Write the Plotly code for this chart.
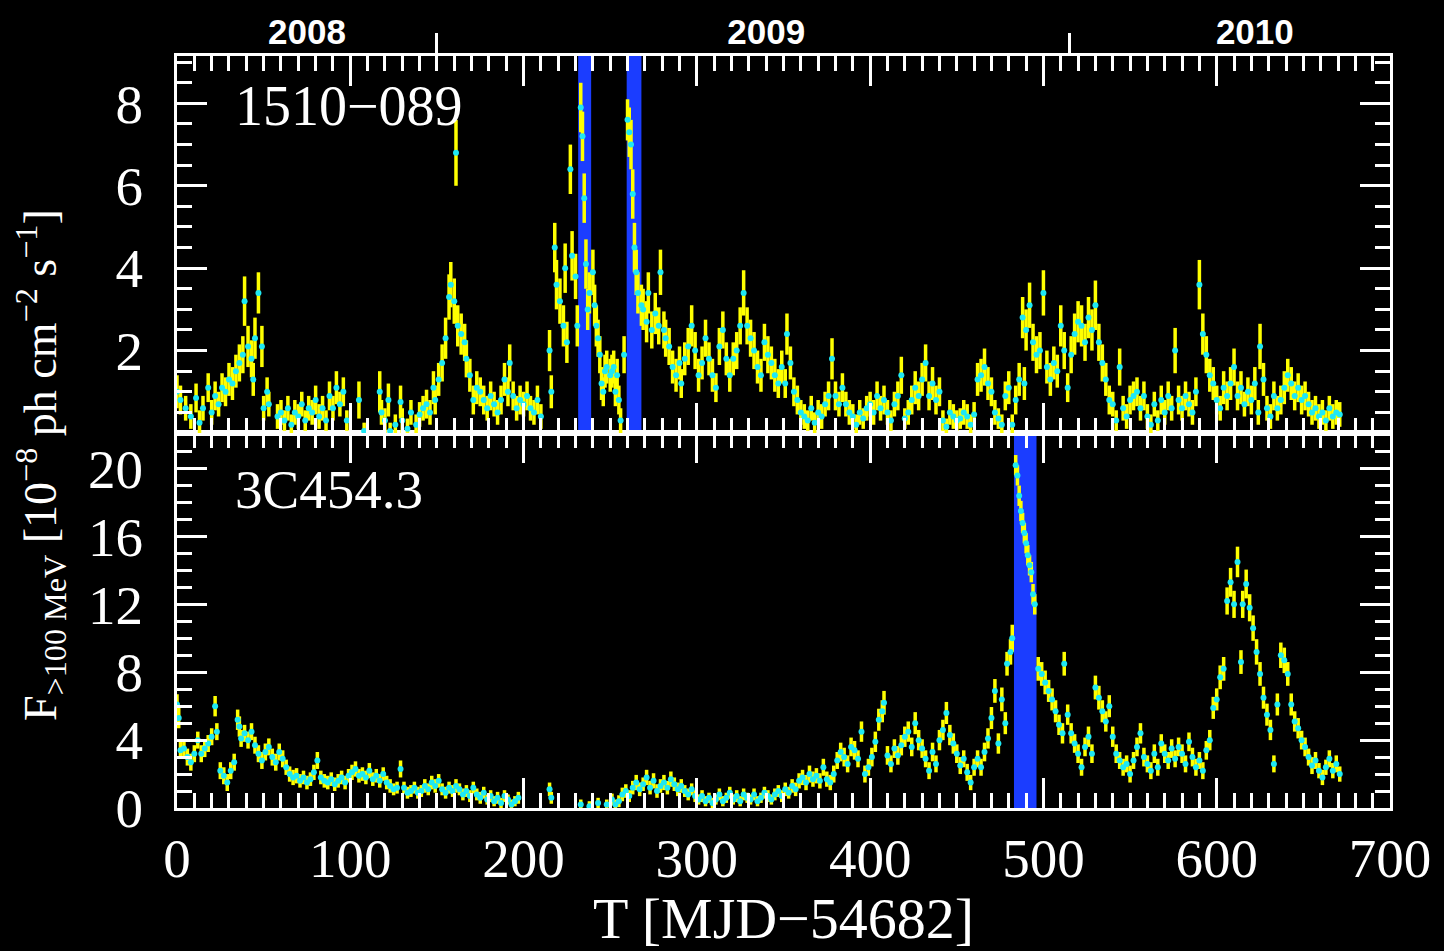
import plotly.graph_objects as go

# ---------------- data: 1510-089 (top panel) ----------------
t_1510 = [0, 2, 5, 8, 11, 13, 15, 18, 20, 22,
          24, 26, 28, 30, 32, 34, 36, 38, 39, 41,
          43, 44, 45, 47, 49, 50, 52, 53, 58, 60,
          62, 64, 66, 68, 70, 72, 74, 76, 78, 80,
          82, 84, 86, 88, 90, 92, 94, 96, 98, 105,
          108, 117, 118, 120, 122, 123, 126, 129, 130, 133,
          135, 138, 140, 142, 144, 146, 148, 149, 151, 153,
          155, 157, 158, 160, 161, 162, 164, 166, 167, 169,
          171, 173, 175, 177, 179, 181, 183, 185, 187, 189,
          191, 192, 194, 196, 198, 200, 202, 204, 206, 208,
          210, 215, 216, 218, 219, 221, 223, 224, 225, 227,
          228, 230, 231, 233, 234, 235, 236, 237, 238, 240,
          241, 242, 243, 244, 245, 246, 247, 248, 250, 251,
          252, 253, 254, 255, 256, 258, 260, 261, 262, 263,
          264, 265, 266, 268, 269, 271, 272, 274, 276, 278,
          279, 281, 282, 284, 286, 288, 290, 291, 293, 295,
          297, 299, 301, 303, 305, 307, 309, 311, 313, 315,
          317, 319, 321, 323, 325, 327, 329, 331, 333, 335,
          337, 339, 341, 343, 345, 347, 349, 351, 352, 354,
          356, 358, 360, 362, 364, 366, 368, 370, 372, 374,
          376, 378, 380, 382, 384, 386, 388, 390, 392, 394,
          396, 398, 400, 402, 404, 406, 408, 410, 412, 414,
          416, 418, 420, 422, 424, 426, 428, 430, 432, 434,
          436, 438, 440, 442, 444, 446, 448, 450, 452, 454,
          456, 458, 460, 462, 464, 466, 468, 470, 472, 474,
          476, 478, 480, 482, 484, 486, 488, 489, 490, 492,
          494, 496, 498, 500, 502, 504, 506, 508, 510, 512,
          514, 516, 518, 520, 522, 524, 526, 528, 530, 532,
          534, 536, 538, 540, 542, 544, 546, 548, 550, 552,
          554, 556, 558, 560, 562, 564, 566, 568, 570, 572,
          574, 576, 578, 580, 582, 584, 586, 588, 590, 592,
          594, 596, 598, 600, 602, 604, 606, 608, 610, 612,
          614, 616, 618, 620, 622, 624, 625, 627, 629, 631,
          633, 635, 637, 639, 641, 643, 645, 647, 649, 651,
          653, 655, 657, 659, 661, 663, 665, 667, 669, 671]
f_1510 = [1.0, 0.8, 0.6, 0.4, 0.85, 0.25, 0.6, 1.1, 0.5, 0.9,
          0.7, 1.1, 1.0, 1.3, 1.2, 1.5, 1.7, 1.9, 3.2, 2.1,
          1.8, 1.3, 2.3, 3.4, 2.1, 0.6, 1.0, 0.7, 0.4, 0.5,
          0.3, 0.6, 0.2, 0.5, 0.4, 0.7, 0.3, 0.6, 0.5, 0.8,
          0.4, 0.6, 0.3, 0.9, 0.6, 1.1, 0.7, 1.0, 0.3, 0.8,
          0.05, 1.0, 0.5, 0.3, 0.8, 0.05, 0.2, 0.75, 0.3, 0.1,
          0.5, 0.2, 0.45, 0.6, 0.7, 0.5, 1.1, 0.8, 1.3, 1.7,
          2.3, 3.3, 3.6, 3.2, 6.8, 2.6, 2.4, 2.2, 1.8, 1.4,
          0.8, 1.1, 1.0, 0.8, 0.6, 0.9, 0.7, 0.5, 0.8, 1.3,
          1.0, 1.7, 0.9, 0.6, 0.8, 0.7, 0.9, 0.6, 0.5, 0.8,
          0.4, 2.0, 1.0, 4.5, 3.6, 3.2, 2.6, 4.0, 2.2, 6.4,
          4.3, 3.8, 2.6, 7.9, 7.2, 5.7, 4.1, 3.0, 3.4, 3.9,
          3.1, 2.6, 2.3, 1.9, 1.2, 1.0, 1.5, 1.6, 1.4, 1.5,
          1.6, 1.0, 1.4, 0.8, 0.3, 1.9, 7.6, 7.3, 7.0, 5.8,
          4.5, 3.9, 3.4, 3.1, 3.0, 2.7, 3.4, 2.5, 2.9, 2.6,
          3.9, 2.5, 2.3, 2.1, 1.6, 1.4, 1.7, 1.2, 1.8, 2.1,
          2.6, 2.0, 1.4, 1.7, 2.3, 1.8, 1.4, 1.1, 2.1, 2.5,
          1.8, 1.4, 1.8, 2.0, 2.6, 3.4, 2.6, 2.3, 2.0, 1.6,
          1.4, 2.2, 1.9, 1.7, 1.4, 1.2, 1.6, 1.2, 2.4, 1.7,
          1.0, 0.8, 0.5, 0.4, 0.3, 0.6, 0.25, 0.5, 0.4, 0.7,
          0.9, 1.8, 0.9, 0.7, 1.1, 0.7, 0.5, 0.4, 0.2, 0.5,
          0.35, 0.6, 0.7, 0.5, 0.9, 0.6, 0.8, 0.5, 0.3, 0.7,
          0.9, 1.4, 0.35, 0.5, 0.8, 1.1, 0.9, 1.3, 1.7, 0.9,
          1.2, 0.8, 1.0, 0.3, 0.15, 0.5, 0.4, 0.3, 0.35, 0.5,
          0.4, 0.2, 0.45, 1.3, 1.4, 1.6, 1.2, 1.0, 0.5, 0.35,
          0.2, 0.9, 1.1, 0.2, 0.8, 1.3, 2.8, 1.2, 2.5, 3.1,
          2.2, 1.9, 2.0, 3.4, 1.6, 1.3, 1.7, 1.5, 2.6, 2.0,
          1.1, 1.9, 2.4, 2.7, 2.6, 2.2, 2.8, 2.5, 3.1, 2.2,
          1.7, 1.3, 0.8, 0.7, 0.3, 1.6, 0.6, 0.4, 0.8, 0.9,
          1.0, 0.6, 0.9, 0.4, 0.2, 0.7, 0.3, 0.8, 0.5, 0.9,
          0.6, 2.0, 0.8, 0.6, 0.9, 0.7, 0.5, 1.0, 3.6, 2.4,
          1.9, 1.4, 1.2, 0.8, 0.6, 1.1, 0.9, 1.2, 1.6, 0.9,
          1.1, 0.7, 1.0, 0.8, 1.2, 0.5, 2.1, 1.3, 0.6, 0.4,
          0.9, 0.6, 0.8, 1.1, 1.4, 1.2, 0.9, 1.1, 0.8, 0.9,
          0.7, 0.5, 0.6, 0.4, 0.5, 0.3, 0.6, 0.4, 0.5, 0.45]
e_1510 = [.4, .35, .3, .3, .35, .3, .3, .35, .3, .35,
          .3, .35, .35, .4, .4, .4, .45, .45, .6, .5,
          .45, .4, .5, .5, .5, .3, .35, .3, .3, .3,
          .25, .3, .25, .3, .3, .3, .25, .3, .3, .35,
          .3, .3, .25, .35, .3, .4, .3, .35, .25, .45,
          .2, .5, .3, .3, .4, .2, .25, .4, .3, .25,
          .3, .25, .3, .3, .35, .3, .4, .35, .4, .45,
          .5, .55, .55, .55, .8, .5, .5, .45, .45, .4,
          .35, .4, .35, .35, .3, .35, .3, .3, .35, .4,
          .35, .45, .35, .3, .35, .3, .35, .3, .3, .35,
          .3, .5, .4, .6, .6, .55, .5, .6, .5, .6,
          .6, .55, .5, .6, .6, .6, .6, .5, .5, .55,
          .5, .5, .45, .45, .4, .35, .4, .4, .4, .4,
          .4, .35, .4, .35, .3, .45, .5, .6, .6, .6,
          .6, .55, .5, .5, .5, .5, .5, .45, .5, .45,
          .55, .45, .45, .45, .4, .4, .4, .35, .4, .45,
          .5, .45, .4, .4, .45, .4, .4, .35, .45, .45,
          .4, .4, .4, .45, .45, .55, .45, .45, .45, .4,
          .4, .45, .45, .4, .4, .35, .4, .35, .5, .4,
          .35, .35, .3, .3, .25, .3, .25, .3, .3, .3,
          .35, .5, .35, .3, .35, .3, .3, .3, .25, .3,
          .25, .3, .3, .3, .35, .3, .35, .3, .25, .3,
          .35, .45, .25, .3, .35, .4, .35, .4, .45, .35,
          .4, .35, .35, .25, .2, .3, .3, .25, .25, .3,
          .3, .25, .3, .4, .4, .45, .4, .35, .3, .25,
          .25, .35, .4, .25, .35, .4, .5, .4, .5, .55,
          .45, .45, .45, .55, .4, .4, .4, .4, .5, .45,
          .35, .45, .5, .5, .5, .45, .5, .5, .6, .45,
          .45, .4, .35, .3, .25, .45, .3, .3, .35, .35,
          .35, .3, .35, .3, .25, .3, .25, .35, .3, .35,
          .3, .55, .35, .3, .35, .3, .3, .35, .6, .5,
          .45, .4, .4, .35, .3, .4, .35, .4, .45, .35,
          .4, .3, .35, .35, .4, .3, .55, .4, .3, .3,
          .35, .3, .35, .4, .4, .4, .35, .35, .35, .35,
          .3, .3, .3, .3, .3, .25, .3, .3, .3, .3]

# ---------------- data: 3C454.3 (bottom panel) ----------------
t_3c = [0, 1, 2, 4, 6, 8, 10, 12, 14, 16,
        18, 20, 22, 23, 25, 27, 29, 31, 33, 35,
        36, 37, 39, 41, 43, 45, 47, 49, 51, 53,
        55, 57, 59, 61, 63, 65, 67, 69, 71, 73,
        75, 77, 79, 81, 83, 85, 87, 89, 91, 93,
        95, 97, 99, 101, 103, 105, 107, 109, 111, 113,
        115, 117, 119, 121, 123, 125, 127, 129, 131, 133,
        135, 137, 139, 141, 143, 145, 147, 149, 151, 153,
        155, 157, 159, 161, 163, 165, 167, 169, 171, 173,
        175, 177, 179, 181, 183, 185, 187, 189, 191, 193,
        195, 197, 215, 216, 233, 238, 243, 248, 251, 253,
        255, 257, 259, 261, 263, 265, 267, 269, 271, 273,
        275, 277, 279, 281, 283, 285, 287, 289, 291, 293,
        295, 297, 299, 301, 303, 305, 307, 309, 311, 313,
        315, 317, 319, 321, 323, 325, 327, 329, 331, 333,
        335, 337, 339, 341, 343, 345, 347, 349, 351, 353,
        355, 357, 359, 361, 363, 365, 367, 369, 371, 373,
        375, 377, 379, 381, 383, 385, 387, 389, 391, 393,
        395, 397, 399, 401, 403, 405, 407, 408, 410, 412,
        414, 416, 418, 420, 422, 424, 426, 428, 430, 432,
        434, 436, 438, 440, 442, 444, 446, 448, 450, 452,
        454, 456, 458, 460, 462, 464, 466, 468, 470, 472,
        474, 476, 478, 479, 481, 482, 484, 485, 486, 487,
        488, 489, 490, 491, 492, 493, 494, 495, 497, 499,
        501, 503, 505, 507, 509, 511, 512, 514, 516, 518,
        520, 522, 524, 526, 528, 530, 532, 534, 536, 538,
        540, 542, 544, 546, 548, 550, 552, 554, 556, 558,
        560, 562, 564, 566, 568, 570, 572, 574, 576, 578,
        580, 582, 584, 586, 588, 590, 592, 594, 596, 598,
        600, 602, 604, 606, 608, 610, 612, 614, 615, 617,
        619, 621, 623, 625, 627, 629, 631, 633, 635, 637,
        639, 641, 643, 645, 647, 649, 651, 653, 655, 657,
        659, 661, 663, 665, 667, 669, 671]
f_3c = [6.1, 5.3, 3.4, 3.5, 3.0, 2.7, 3.2, 4.0, 3.2, 3.5,
        3.8, 4.2, 6.0, 4.5, 2.2, 1.9, 1.5, 2.2, 2.7, 5.2,
        4.8, 4.1, 4.4, 4.0, 4.5, 3.7, 3.2, 2.8, 3.3, 3.6,
        3.0, 2.7, 3.3, 2.9, 2.4, 2.0, 1.8, 1.9, 1.6, 1.8,
        1.5, 1.7, 2.1, 2.8, 1.8, 1.6, 1.5, 1.7, 1.4, 1.6,
        1.8, 1.5, 1.9, 2.1, 2.3, 1.9, 2.0, 1.8, 2.2, 1.7,
        1.9, 1.6, 2.0, 1.5, 1.3, 1.1, 1.2, 2.3, 1.2, 0.9,
        1.0, 1.2, 0.9, 1.0, 1.3, 1.1, 1.5, 1.3, 1.6, 1.1,
        0.9, 1.2, 1.0, 1.3, 1.1, 0.8, 1.0, 0.7, 1.2, 0.8,
        0.6, 0.9, 0.5, 0.7, 0.4, 0.6, 0.3, 0.7, 0.5, 0.2,
        0.4, 0.6, 1.1, 0.6, 0.2, 0.1, 0.3, 0.2, 0.5, 0.2,
        0.4, 0.8, 1.0, 0.7, 1.2, 1.5, 1.1, 1.4, 1.8, 1.2,
        1.6, 1.0, 1.3, 1.5, 1.2, 1.7, 1.4, 1.1, 1.3, 1.0,
        0.8, 1.1, 0.7, 0.5, 0.7, 0.4, 0.6, 0.3, 0.5, 0.8,
        0.4, 0.6, 0.9, 0.5, 0.7, 0.4, 0.8, 0.6, 0.5, 0.8,
        0.4, 0.6, 0.9, 0.7, 0.5, 0.8, 1.0, 0.7, 1.1, 0.9,
        1.3, 1.1, 1.6, 1.8, 1.5, 2.0, 1.7, 1.9, 1.6, 2.4,
        1.7, 1.5, 2.0, 2.8, 3.3, 3.0, 2.6, 3.6, 3.4, 2.9,
        4.5, 2.0, 2.4, 3.0, 3.9, 5.2, 5.7, 6.2, 3.1, 2.6,
        3.5, 3.1, 3.7, 4.2, 4.5, 3.6, 5.0, 4.0, 3.5, 2.9,
        2.2, 3.3, 2.6, 4.0, 4.6, 5.6, 4.3, 3.8, 3.2, 2.5,
        2.9, 2.1, 1.5, 2.4, 2.9, 2.4, 3.3, 4.1, 5.3, 6.9,
        3.8, 6.4, 5.0, 8.5, 9.2, 10.0, 20.2, 19.6, 18.4, 17.5,
        16.8, 16.2, 15.6, 14.9, 14.3, 13.9, 12.6, 12.0, 8.2, 7.9,
        7.4, 6.9, 6.4, 5.7, 4.9, 4.4, 8.5, 5.5, 4.4, 3.8,
        3.2, 2.4, 3.6, 4.2, 3.2, 7.1, 6.5, 5.7, 5.1, 6.0,
        4.2, 3.2, 2.8, 2.4, 2.6, 2.0, 2.8, 3.6, 4.4, 3.0,
        2.6, 2.2, 3.2, 2.4, 3.8, 3.2, 2.8, 3.5, 2.9, 3.6,
        3.2, 2.6, 3.9, 3.0, 2.4, 2.8, 2.2, 3.4, 4.0, 5.9,
        6.4, 7.7, 8.2, 12.2, 13.3, 12.0, 14.5, 8.6, 12.0, 13.2,
        11.8, 10.6, 9.2, 7.9, 6.5, 5.5, 4.6, 2.6, 6.1, 9.0,
        8.7, 7.9, 6.1, 5.1, 4.7, 4.0, 3.6, 3.0, 2.5, 2.8,
        2.2, 1.8, 2.4, 2.9, 2.2, 2.6, 2.0]
e_3c = [.6, .6, .5, .5, .5, .5, .5, .5, .5, .5,
        .5, .5, .6, .5, .5, .5, .5, .5, .5, .6,
        .6, .5, .5, .5, .5, .5, .5, .5, .5, .5,
        .5, .5, .5, .5, .45, .45, .45, .45, .4, .4,
        .4, .4, .45, .5, .4, .4, .4, .4, .4, .4,
        .4, .4, .4, .45, .45, .4, .4, .4, .45, .4,
        .4, .4, .4, .4, .4, .35, .35, .5, .35, .35,
        .35, .35, .35, .35, .4, .35, .4, .4, .4, .35,
        .35, .35, .35, .4, .35, .35, .35, .35, .35, .35,
        .35, .35, .3, .35, .3, .35, .3, .35, .3, .3,
        .3, .35, .4, .35, .3, .3, .3, .3, .35, .3,
        .35, .4, .4, .35, .4, .45, .4, .4, .45, .4,
        .45, .4, .4, .45, .4, .45, .4, .4, .4, .35,
        .35, .35, .35, .3, .35, .3, .3, .3, .3, .35,
        .3, .3, .35, .3, .35, .3, .35, .3, .3, .35,
        .3, .3, .35, .35, .3, .35, .35, .35, .4, .35,
        .4, .4, .45, .45, .45, .5, .45, .45, .45, .5,
        .45, .45, .5, .5, .55, .55, .5, .55, .55, .5,
        .6, .5, .5, .55, .6, .65, .65, .7, .55, .5,
        .55, .55, .6, .6, .6, .55, .65, .6, .55, .5,
        .5, .55, .5, .6, .6, .65, .6, .6, .55, .5,
        .5, .5, .45, .5, .5, .5, .55, .6, .65, .7,
        .6, .7, .65, .7, .75, .8, .6, .6, .6, .6,
        .6, .6, .6, .6, .6, .6, .6, .6, .7, .7,
        .7, .65, .65, .65, .6, .6, .7, .6, .6, .55,
        .55, .5, .55, .6, .55, .7, .7, .65, .6, .65,
        .6, .55, .5, .5, .5, .5, .5, .55, .6, .55,
        .5, .5, .55, .5, .55, .55, .5, .55, .5, .55,
        .55, .5, .55, .55, .5, .5, .5, .55, .6, .65,
        .65, .7, .7, .8, .85, .8, .9, .7, .8, .85,
        .8, .75, .75, .7, .65, .65, .6, .5, .65, .75,
        .75, .7, .65, .6, .6, .55, .55, .5, .5, .5,
        .45, .45, .45, .5, .45, .5, .45]

# flare windows (blue bands), in T [MJD-54682]
bands_1510 = [(231.5, 239.0), (259.5, 268.0)]
bands_3c = [(483.0, 496.0)]

# year boundaries and year-label positions on the top axis
year_bound_T = [150, 515]
year_label_T = [75, 340, 622]
year_labels = ["2008", "2009", "2010"]

assert len(t_1510) == len(f_1510) == len(e_1510)
assert len(t_3c) == len(f_3c) == len(e_3c)

YELLOW = "#ffff00"
CYAN = "#1ee8f5"
BLUE = "#1b3dff"
WHITE = "white"
SERIF = "Liberation Serif"
TICK_SIZE = 55

fig = go.Figure()

fig.add_trace(go.Scatter(
    x=t_1510, y=f_1510, xaxis="x2", yaxis="y2", mode="markers",
    marker=dict(color=CYAN, size=6),
    error_y=dict(type="data", array=e_1510, color=YELLOW, thickness=3.5, width=0),
    showlegend=False, hoverinfo="skip"))
fig.add_trace(go.Scatter(
    x=t_3c, y=f_3c, xaxis="x", yaxis="y", mode="markers",
    marker=dict(color=CYAN, size=6),
    error_y=dict(type="data", array=e_3c, color=YELLOW, thickness=3.5, width=0),
    showlegend=False, hoverinfo="skip"))
# carrier traces for the top (year) axes
for ax in ("x3", "x4"):
    fig.add_trace(go.Scatter(x=[None], y=[None], xaxis=ax, yaxis="y2",
                             mode="markers", showlegend=False, hoverinfo="skip"))

for x0, x1 in bands_1510:
    fig.add_shape(type="rect", xref="x2", yref="y2 domain", x0=x0, x1=x1,
                  y0=0, y1=1, fillcolor=BLUE, line=dict(width=0), layer="below")
for x0, x1 in bands_3c:
    fig.add_shape(type="rect", xref="x", yref="y domain", x0=x0, x1=x1,
                  y0=0, y1=1, fillcolor=BLUE, line=dict(width=0), layer="below")

split = 0.4987
tick_common = dict(ticks="inside", tickcolor=WHITE, tickwidth=3,
                   showline=True, linecolor=WHITE, linewidth=3, mirror="ticks",
                   showgrid=False, zeroline=False)

fig.update_layout(
    width=1444, height=951, autosize=False,
    paper_bgcolor="black", plot_bgcolor="black",
    margin=dict(l=177, r=54, t=50, b=143),
    xaxis=dict(domain=[0, 1], anchor="y", range=[0, 700], tick0=0, dtick=100,
               ticklen=30,
               minor=dict(dtick=10, tick0=0, ticklen=15, tickwidth=3,
                          tickcolor=WHITE, ticks="inside"),
               tickfont=dict(family=SERIF, size=TICK_SIZE, color=WHITE),
               ticklabelstandoff=0,
               title=dict(text="T [MJD−54682]",
                          font=dict(family=SERIF, size=58, color=WHITE),
                          standoff=0),
               **tick_common),
    yaxis=dict(domain=[0, split], anchor="x", range=[0, 22.1], tick0=0, dtick=4,
               ticklen=30,
               minor=dict(dtick=1, tick0=0, ticklen=15, tickwidth=3,
                          tickcolor=WHITE, ticks="inside"),
               tickfont=dict(family=SERIF, size=TICK_SIZE, color=WHITE),
               ticklabelstandoff=20,
               **tick_common),
    xaxis2=dict(domain=[0, 1], anchor="y2", range=[0, 700], tick0=0, dtick=100,
                ticklen=30, showticklabels=False,
                minor=dict(dtick=10, tick0=0, ticklen=15, tickwidth=3,
                           tickcolor=WHITE, ticks="inside"),
                **tick_common),
    yaxis2=dict(domain=[split, 1], anchor="x2", range=[0, 9.15],
                tickmode="array", tickvals=[2, 4, 6, 8], ticktext=["2", "4", "6", "8"],
                ticklen=30,
                minor=dict(dtick=0.5, tick0=0, ticklen=15, tickwidth=3,
                           tickcolor=WHITE, ticks="inside"),
                tickfont=dict(family=SERIF, size=TICK_SIZE, color=WHITE),
                ticklabelstandoff=20,
                **tick_common),
    xaxis3=dict(overlaying="x2", anchor="y2", side="top", range=[0, 700],
                tickmode="array", tickvals=year_bound_T, ticks="outside",
                ticklen=22, tickwidth=3, tickcolor=WHITE, showticklabels=False,
                showline=False, showgrid=False, zeroline=False),
    xaxis4=dict(overlaying="x2", anchor="y2", side="top", range=[0, 700],
                tickmode="array", tickvals=year_label_T, ticktext=year_labels,
                ticks="", showline=False, showgrid=False, zeroline=False,
                ticklabelstandoff=4,
                tickfont=dict(family="Liberation Sans", size=35, color=WHITE,
                              weight="bold")),
)

# panel labels
fig.add_annotation(text="1510−089", xref="x2 domain", yref="y2 domain",
                   x=0.046, y=0.868, xanchor="left", yanchor="middle",
                   showarrow=False, font=dict(family=SERIF, size=56, color=WHITE))
fig.add_annotation(text="3C454.3", xref="x domain", yref="y domain",
                   x=0.046, y=0.849, xanchor="left", yanchor="middle",
                   showarrow=False, font=dict(family=SERIF, size=55, color=WHITE))

# y-axis title shared by both panels
fig.add_annotation(
    text="F<sub>&gt;100 MeV</sub> [10<sup>−8</sup> ph cm<sup>−2</sup> s<sup>−1</sup>]",
    xref="paper", yref="paper", x=-0.113, y=0.456, xanchor="center", yanchor="middle",
    textangle=-90, showarrow=False, font=dict(family=SERIF, size=46, color=WHITE))

fig.write_html(
    "out.html",
    config={"displayModeBar": False},
    post_script="document.body.style.margin='0';"
                "document.body.style.background='black';")
